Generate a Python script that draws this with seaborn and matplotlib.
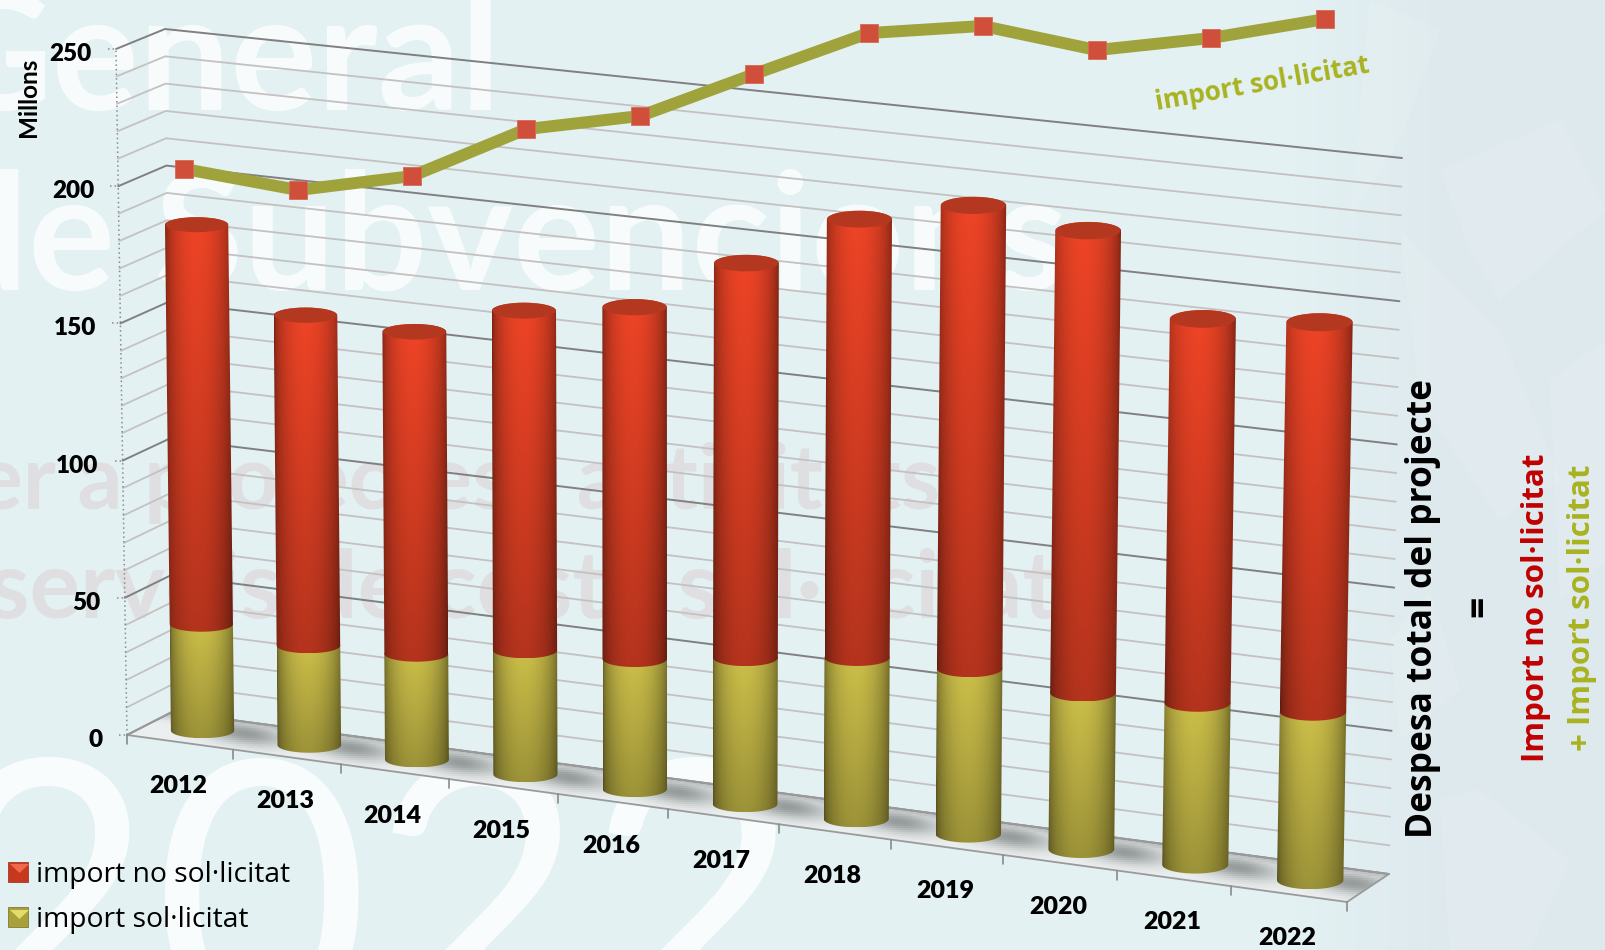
import numpy as np
import pandas as pd
import seaborn as sns
import matplotlib
matplotlib.use("Agg")
import matplotlib.pyplot as plt
from matplotlib.transforms import Affine2D, Transform
from matplotlib.patches import Polygon, Ellipse, Patch

# ---------- data ----------
years = ["2012","2013","2014","2015","2016","2017","2018","2019","2020","2021","2022"]
total_project = [184.4,156.0,154.6,166.8,172.6,192.9,213.0,222.3,217.8,191.3,194.7]
import_solicitat = [38.8,36.1,38.2,44.6,46.6,52.1,57.3,58.5,55.1,56.7,58.8]
line_solicitat = [206.3,198.6,203.7,220.8,225.6,240.9,255.8,258.4,249.6,254.0,260.9]
y_ticks = [0,50,100,150,200,250]
grid_levels = list(range(0,251,10))

W,H = 1606,950
RED = np.array([238,68,38])/255
YEL = np.array([206,193,74])/255

# box corners of the 3-D chart in pixels: (u, v/250, depth)
FB0,FB1 = np.array([127.,735.]),np.array([1347.,902.])
FT0,FT1 = np.array([116.,49.]),np.array([1360.,182.])
BB0,BB1 = np.array([172.,712.]),np.array([1389.,874.])
BT0,BT1 = np.array([165.,29.]),np.array([1402.,158.])
PERSP = 1.046

def project(i,v,z):
    i,v,z = np.broadcast_arrays(np.asarray(i,float),np.asarray(v,float),np.asarray(z,float))
    s = (i+.5)/11
    u = (s/(s+(1-s)*PERSP))[...,None]; t = (v/250)[...,None]; z = z[...,None]
    fb = FB0+(FB1-FB0)*u; ft = FT0+(FT1-FT0)*u
    bb = BB0+(BB1-BB0)*u; bt = BT0+(BT1-BT0)*u
    f = fb+(ft-fb)*t; b = bb+(bt-bb)*t
    return f+(b-f)*z

class Box(Transform):
    input_dims = output_dims = 2
    is_separable = False
    def __init__(self,z):
        super().__init__(); self.z = z
    def transform_non_affine(self,pts):
        pts = np.asarray(pts)
        return project(pts[:,0],pts[:,1],self.z)

sns.set_theme(style="white")
plt.rcParams["font.family"] = ["Lato","DejaVu Sans"]
fig = plt.figure(figsize=(W/100,H/100),dpi=100)
ax = fig.add_axes([0,0,1,1])
PX = Affine2D().scale(1,-1).translate(0,H)
idx = np.arange(len(years))

# ---------- background ----------
xx = np.linspace(0,1,400)
mix = np.clip((xx*W-1300)/150,0,1)[None,:,None]
bg = (1-mix)*np.array([227,241,243])/255 + mix*np.array([222,233,238])/255
ax.imshow(bg,extent=(0,W,H,0),aspect="auto",transform=PX,zorder=0)
for pts in [[(1370,0),(1440,30),(1400,140),(1350,220)],[(1440,170),(1560,120),(1606,210),(1500,300),(1470,250)],
            [(1400,230),(1500,330),(1560,480),(1500,520),(1420,400)],[(1440,800),(1480,790),(1570,860),(1530,950),(1450,950)],
            [(1390,640),(1430,590),(1460,690),(1400,740)],[(1550,380),(1606,340),(1606,560),(1560,600)]]:
    ax.add_patch(Polygon(pts,closed=True,fc="white",ec="none",alpha=.11,transform=PX,zorder=0.5))

# watermark text
wm = dict(transform=PX,zorder=1,va="baseline")
ax.text(502,110,"General",color="white",fontsize=117,ha="right",alpha=.78,fontweight="bold",**wm)
ax.text(1068,290,"de Subvencions",color="white",fontsize=117,ha="right",alpha=.78,fontweight="bold",**wm)
ax.text(940,508,"per a projectes i activitats",color="#dfdfe2",fontsize=64,ha="right",fontweight="bold",**wm)
ax.text(1058,618,"serveis de cost i sol·licitat",color="#dfdfe2",fontsize=68,ha="right",fontweight="bold",**wm)
ax.text(-62,1028,"2022",color="white",fontsize=268,ha="left",alpha=.8,**wm)

# ---------- bars from seaborn ----------
df = pd.DataFrame({"pos":idx,"total":total_project,"sol":import_solicitat})
box_t = Box(.5)+PX
n0 = len(ax.patches)
sns.barplot(data=df,x="pos",y="total",native_scale=True,color="#c8381f",width=.57,saturation=1,
            errorbar=None,ax=ax,transform=box_t,zorder=3,linewidth=0)
n_red = len(ax.patches)
sns.barplot(data=df,x="pos",y="sol",native_scale=True,color="#b5a83c",width=.57,saturation=1,
            errorbar=None,ax=ax,transform=box_t,zorder=3,linewidth=0)
red_bars = ax.patches[n0:n_red]; yel_bars = ax.patches[n_red:]

def ry_of(i): return 7.5+.15*i
PX_PER_CAT = (FB1[0]-FB0[0])/11

# ---------- floor ----------
c0 = project(idx,0,.5)
cor = [project(-.5,0,0),project(10.5,0,0),project(10.5,0,1),project(-.5,0,1)]
X,Y = np.meshgrid(np.arange(100,1420,2.),np.arange(700,930,2.))
sh = np.zeros_like(X)
for (cx,cy) in c0:
    dx = X-(cx+42); dy = (Y-(cy+2))-.13*dx
    sh = np.maximum(sh,np.exp(-(dx/40)**2-(dy/11)**2))
d_back = Y-(BB0[1]+(BB1[1]-BB0[1])*(X-BB0[0])/(BB1[0]-BB0[0]))
sh = np.maximum(sh,.55*np.exp(-(np.clip(d_back,0,None)/7)**2))
sh = sh[...,None]
floor_img = (1-sh)*np.array([236,240,240])/255+sh*np.array([150,155,155])/255
im = ax.imshow(floor_img,extent=(100,1420,930,700),aspect="auto",transform=PX,zorder=2)
im.set_clip_path(Polygon(cor,closed=True,transform=PX))
ax.add_patch(Polygon(cor,closed=True,fc="none",ec="#9a9a9a",lw=1.3,transform=PX,zorder=2.2))

# ---------- grid ----------
for lv in grid_levels:
    maj = lv%50==0
    a,b,c = project(-.5,lv,0),project(-.5,lv,1),project(10.5,lv,1)
    ax.plot([a[0],b[0],c[0]],[a[1],b[1],c[1]],transform=PX,color="#808080" if maj else "#c4c1c1",
            lw=1.4 if maj else 1.3,zorder=2.1,solid_joinstyle="miter")
a,b = project(-.5,0,0),project(-.5,250,0)
ax.plot([a[0],b[0]],[a[1],b[1]],transform=PX,color="#8a8a8a",lw=1.1,ls=(0,(1,2)),zorder=2.3)
for k in range(12):
    p = project(k-.5,0,0)
    ax.plot([p[0],p[0]],[p[1],p[1]+9],transform=PX,color="#8a8a8a",lw=1.2,zorder=2.3)
for v in y_ticks:
    p = project(-.5,v,0)
    ax.plot([p[0]-8,p[0]],[p[1],p[1]],transform=PX,color="#8a8a8a",lw=1.1,ls=(0,(1,2)),zorder=2.3)

# ---------- cylinders, geometry read back from the seaborn bars ----------
def profile(s):
    return .50+.50*np.sin(np.pi*s**.92)**.55
def cylinder(bar,v0,colour,top_f,bot_f,cap=None):
    i = bar.get_x()+bar.get_width()/2; v1 = bar.get_height()
    rx = bar.get_width()/2*PX_PER_CAT*(1+.005*i); ry = ry_of(i)
    c_b,c_t = project(i,v0,.5),project(i,v1,.5)
    th = np.linspace(0,np.pi,50)
    upper = np.c_[c_t[0]-rx*np.cos(th),c_t[1]-ry*np.sin(th)]
    lower = np.c_[c_b[0]+rx*np.cos(th),c_b[1]+ry*np.sin(th)]
    poly = np.r_[upper,lower]
    x0,x1 = poly[:,0].min(),poly[:,0].max(); y0,y1 = poly[:,1].min(),poly[:,1].max()
    s = np.linspace(0,1,120); r = np.linspace(0,1,60)
    arr = colour[None,None,:]*profile(s)[None,:,None]*(top_f+(bot_f-top_f)*r)[:,None,None]
    im = ax.imshow(np.clip(arr,0,1),extent=(x0,x1,y1,y0),aspect="auto",transform=PX,zorder=5)
    im.set_clip_path(Polygon(poly,closed=True,transform=PX))
    if cap is not None:
        ax.add_patch(Ellipse(c_t,2*rx-1,2*ry,fc=cap,ec="none",transform=PX,zorder=5.1))
    return i
for b in yel_bars:
    cylinder(b,0,YEL,1.0,.76)
for b,yb in zip(red_bars,yel_bars):
    cylinder(b,yb.get_height(),RED,1.0,.76,cap="#b4381f")
for b in list(red_bars)+list(yel_bars):      # keep the flat bars inside the round bodies
    x,w = b.get_x(),b.get_width()
    b.set_x(x+.2*w); b.set_width(.6*w)

# ---------- line on the flat front scale ----------
sns.lineplot(x=idx,y=line_solicitat,ax=ax,color="#a0a33c",lw=8.6,marker="s",ms=13,mfc="#cf4f3a",
             mec="#d96a55",mew=.6,zorder=6,legend=False,errorbar=None)

# ---------- labels ----------
for y,lab in zip(y_ticks,y_ticks):
    p = project(-.5,y,0)
    ax.text(p[0]-24,p[1]+5,str(lab),transform=PX,ha="right",va="center",fontsize=17.5,fontweight="heavy",color="black",zorder=7)
for k,lab in enumerate(years):
    p = project(k,0,0)
    ax.text(p[0]-2,p[1]+44,lab,transform=PX,ha="center",va="center",fontsize=18,fontweight="heavy",color="black",zorder=7)
ax.text(28,97,"Millons",transform=PX,rotation=90,ha="center",va="center",fontsize=17.5,fontweight="bold",color="black",zorder=7)
of = ["Open Sans","DejaVu Sans"]
ax.text(1423,608,"Despesa total del projecte",family=of,transform=PX,rotation=90,ha="center",va="center",fontsize=25.5,fontweight="bold",color="black",zorder=7)
ax.text(1480,606,"=",family=of,transform=PX,rotation=90,ha="center",va="center",fontsize=27,fontweight="bold",color="black",zorder=7)
ax.text(1536,608,"Import no sol·licitat",family=of,transform=PX,rotation=90,ha="center",va="center",fontsize=22.5,fontweight="bold",color="#c00000",zorder=7)
ax.text(1582,608,"+ Import sol·licitat",family=of,transform=PX,rotation=90,ha="center",va="center",fontsize=22.5,fontweight="bold",color="#a9b320",zorder=7)
ax.text(1262,84,"import sol·licitat",family=of,transform=PX,rotation=10,ha="center",va="center",fontsize=18.8,fontweight="bold",color="#a9b320",zorder=7)

leg = ax.legend(handles=[Patch(fc="#c8381f",ec="#8e2a15",lw=.5,label="import no sol·licitat"),
                         Patch(fc="#a9a03a",ec="#6e6b22",lw=.5,label="import sol·licitat")],
                loc="upper left",bbox_to_anchor=(8/W,1-861/H),frameon=False,
                prop={"family":of,"size":20.3},handlelength=.7,handleheight=.7,handletextpad=.3,
                labelspacing=.6,borderpad=0,borderaxespad=0,labelcolor="black")
leg.set_zorder(7)
for y0,c in [(864,"#ee6a4a"),(910,"#e4dc6a")]:
    ax.add_patch(Polygon([(10,y0),(29,y0),(19.5,y0+9)],closed=True,fc=c,ec="none",transform=PX,zorder=8))

ax.set_xlim(-184/114.1,(W-184)/114.1)
ax.set_ylim((735-H)/2.744,735/2.744)
ax.set_axis_off()
fig.savefig("out.png",dpi=100)
